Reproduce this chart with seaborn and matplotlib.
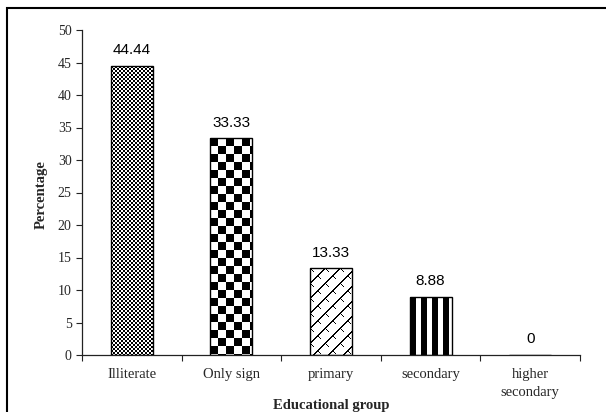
import numpy as np
import matplotlib
matplotlib.use("Agg")
import matplotlib.pyplot as plt
from matplotlib.patches import Rectangle
import seaborn as sns

categories = ["Illiterate", "Only sign", "primary", "secondary", "higher\nsecondary"]
values = [44.44, 33.33, 13.33, 8.88, 0]
value_labels = ["44.44", "33.33", "13.33", "8.88", "0"]
yticks = [0, 5, 10, 15, 20, 25, 30, 35, 40, 45, 50]

sns.set_style("white")
plt.rcParams["font.family"] = ["Liberation Serif", "DejaVu Serif"]

W, H, DPI = 606, 412, 100
fig = plt.figure(figsize=(W / DPI, H / DPI), dpi=DPI)
ax = fig.add_axes([82 / W, 1 - 355 / H, (580 - 82) / W, (355 - 30) / H])

sns.barplot(x=categories, y=values, color="white", edgecolor="black",
            linewidth=1.0, width=0.42, ax=ax, zorder=3)
ax.set_xlim(-0.5, 4.5)
ax.set_ylim(0, 50)

# pattern fills
def pattern_array(kind, h, w):
    yy, xx = np.mgrid[0:h, 0:w]
    if kind == "fine":
        c = 2
        return ((yy // c + xx // c) % 2).astype(float)
    if kind == "coarse":
        c = 8
        return ((yy // c + xx // c) % 2).astype(float)
    if kind == "stripes":
        return ((xx % 11) >= 6).astype(float)
    if kind == "trellis":
        P = 15
        a = ((xx + yy) % P == 0) | ((xx + yy + 1) % P == 0)
        b = ((xx - yy) % P == 0) & (((xx + yy) % P) < P // 2)
        return (~(a | b)).astype(float)
    return np.ones((h, w))

kinds = ["fine", "coarse", "trellis", "stripes", None]
for patch, kind in zip(ax.patches, kinds):
    patch.set_facecolor("none")
    if kind is None or patch.get_height() <= 0:
        continue
    x0, y0 = patch.get_x(), patch.get_y()
    x1, y1 = x0 + patch.get_width(), y0 + patch.get_height()
    (px0, py0), (px1, py1) = ax.transData.transform([(x0, y0), (x1, y1)])
    w = max(1, int(round(px1 - px0)))
    h = max(1, int(round(py1 - py0)))
    arr = pattern_array(kind, h, w)
    im = ax.imshow(arr, cmap="gray", vmin=0, vmax=1, extent=(x0, x1, y0, y1),
                   origin="upper", interpolation="nearest", aspect="auto", zorder=2)
    im.set_clip_path(patch)
ax.set_xlim(-0.5, 4.5)
ax.set_ylim(0, 50)

# value labels
for i, (v, lab) in enumerate(zip(values, value_labels)):
    ax.annotate(lab, (i, v), xytext=(0, 8.5), textcoords="offset points",
                ha="center", va="baseline", fontsize=11,
                family=["Liberation Sans", "DejaVu Sans"], color="black")

# axes styling
for s in ["top", "right"]:
    ax.spines[s].set_visible(False)
for s in ["left", "bottom"]:
    ax.spines[s].set_color("#222222")
    ax.spines[s].set_linewidth(0.9)

ax.set_yticks(yticks)
ax.set_yticklabels([str(t) for t in yticks], fontsize=10)
ax.tick_params(axis="y", direction="out", length=4, width=0.8, color="#222222", pad=3.5, left=True)

ax.set_xticks(range(len(categories)))
ax.set_xticklabels(categories, fontsize=10.5, linespacing=1.45)
ax.tick_params(axis="x", which="major", length=0, pad=9.5)
ax.set_xticks(np.arange(-0.5, len(categories), 1.0), minor=True)
ax.tick_params(axis="x", which="minor", direction="out", length=4, width=0.8,
               color="#222222", bottom=True)

ax.set_xlabel("")
ax.set_ylabel("")
fig.text(331 / W, 1 - 409 / H, "Educational group", ha="center", va="baseline",
         fontsize=10.5, fontweight="bold")
fig.text(41 / W, 1 - 195 / H, "Percentage", ha="center", va="center", rotation=90,
         fontsize=10.5, fontweight="bold")

ax.patch.set_alpha(0)

# outer frame
frame = Rectangle((7 / W, -0.1), 1.2, (H - 8) / H + 0.1, transform=fig.transFigure,
                  fill=False, edgecolor="black", linewidth=1.5)
fig.patches.append(frame)

fig.savefig("out.png", dpi=DPI, facecolor="white")
